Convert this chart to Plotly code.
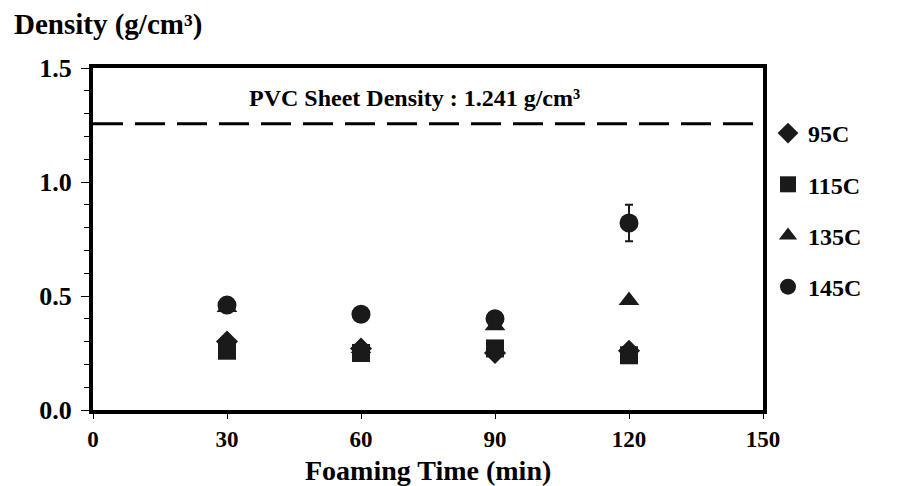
import plotly.graph_objects as go

time_min = [30, 60, 90, 120]
series_names = ["95C", "115C", "135C", "145C"]
density_95 = [0.30, 0.27, 0.25, 0.26]
density_115 = [0.26, 0.25, 0.27, 0.24]
density_135 = [0.45, 0.27, 0.37, 0.48]
density_145 = [0.46, 0.42, 0.40, 0.82]
err_95 = [0.0, 0.0, 0.0, 0.0]
err_115 = [0.0, 0.0, 0.0, 0.0]
err_135 = [0.0, 0.0, 0.0, 0.0]
err_145 = [0.0, 0.0, 0.0, 0.08]
pvc_density = 1.255
pvc_label = "PVC Sheet Density : 1.241 g/cm³"
x_title = "Foaming Time (min)"
y_title = "Density (g/cm³)"

FONT = "Liberation Serif"
INK = "#1a1a1a"

L, R, T, B = 93, 136, 68, 76
PW, PH = 899 - L - R, 486 - T - B

fig = go.Figure()
symbols = ["diamond", "square", "triangle-up", "circle"]
values = [density_95, density_115, density_135, density_145]
errs = [err_95, err_115, err_135, err_145]
sizes = [17, 18, 18, 19]
for name, sym, vals, er, sz in zip(series_names, symbols, values, errs, sizes):
    fig.add_trace(go.Scatter(
        x=time_min, y=vals, mode="markers", name="<b>" + name + "</b>",
        legendgroup=name,
        marker=dict(symbol=sym, size=sz, color=INK),
        error_y=dict(type="data", array=er, visible=True, color=INK,
                     thickness=2, width=4),
    ))

fig.add_trace(go.Scatter(
    x=[0, 150], y=[pvc_density, pvc_density], mode="lines",
    line=dict(color="black", width=3, dash="30px,12px"),
    showlegend=False, hoverinfo="skip",
))

fig.add_annotation(x=72, y=1.37, xref="x", yref="y", text="<b>" + pvc_label + "</b>",
                   showarrow=False, font=dict(family=FONT, size=24, color="black"))
fig.add_annotation(x=(12 - L) / PW, y=1 + (T - 25) / PH, xref="paper", yref="paper",
                   text="<b>" + y_title + "</b>",
                   showarrow=False, font=dict(family=FONT, size=29, color="black"),
                   xanchor="left", yanchor="middle")
fig.add_annotation(x=0.5, y=(T + PH - 470) / PH, xref="paper", yref="paper",
                   text="<b>" + x_title + "</b>",
                   showarrow=False, font=dict(family=FONT, size=28, color="black"),
                   xanchor="center", yanchor="middle")

fig.update_layout(
    template="none",
    width=899, height=486,
    margin=dict(l=L, r=R, t=T, b=B, pad=0),
    paper_bgcolor="white", plot_bgcolor="white",
    font=dict(family=FONT, color="black"),
    showlegend=True,
    legend=dict(x=(768 - L) / PW, y=1 - (111 - T) / PH, xanchor="left", yanchor="top",
                font=dict(family=FONT, size=24, color="black"),
                tracegroupgap=17, itemwidth=30, bgcolor="rgba(0,0,0,0)",
                borderwidth=0),
    xaxis=dict(range=[0, 150], dtick=30, tick0=0, showgrid=False, zeroline=False,
               automargin=False,
               showline=True, linecolor="black", linewidth=4, mirror=True,
               ticks="outside", ticklen=5, tickwidth=1, tickcolor="black",
               tickprefix="<b>", ticksuffix="</b>",
               tickfont=dict(family=FONT, size=23, color="black")),
    yaxis=dict(range=[0, 1.5], dtick=0.5, tick0=0, tickformat=".1f",
               showgrid=False, zeroline=False, automargin=False,
               showline=True, linecolor="black", linewidth=4, mirror=True,
               ticks="outside", ticklen=8, tickwidth=1, tickcolor="black",
               ticklabelstandoff=4,
               tickprefix="<b>", ticksuffix="</b>",
               minor=dict(dtick=0.1, ticks="outside", ticklen=5, tickwidth=1,
                          tickcolor="black", showgrid=False),
               tickfont=dict(family=FONT, size=26, color="black")),
)

fig.write_html("out.html")
